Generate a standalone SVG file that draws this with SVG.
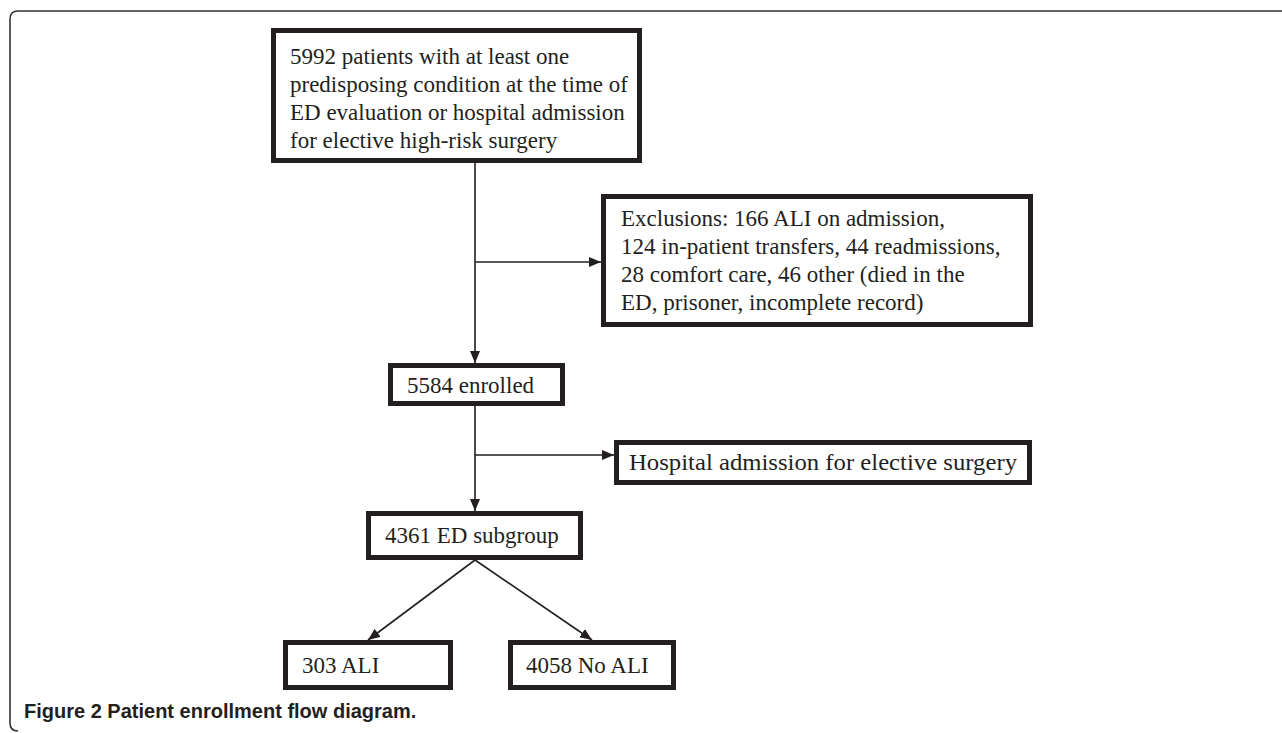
<svg xmlns="http://www.w3.org/2000/svg" width="1282" height="733" viewBox="0 0 1282 733">
<defs>
<style>
.box{fill:#fff;stroke:#231f20;stroke-width:5}
.t{font-family:"Liberation Serif","Times New Roman",serif;font-size:23px;fill:#231f20}
.c{stroke:#231f20;stroke-width:1.6;fill:none}
.cap{font-family:"Liberation Sans",Arial,sans-serif;font-size:20px;font-weight:bold;fill:#231f20}
</style>
<marker id="ah" viewBox="0 0 12 10" refX="12" refY="5" markerWidth="12" markerHeight="10" markerUnits="userSpaceOnUse" orient="auto">
<path d="M0,0 L12,5 L0,10 Z" fill="#231f20"/>
</marker>
</defs>
<rect width="1282" height="733" fill="#fff"/>
<path d="M18,731 Q10,731 10,723 L10,19 Q10,11 18,11 L1282,11" fill="none" stroke="#333" stroke-width="1.6"/>
<g id="connectors">
<line class="c" x1="475" y1="163" x2="475" y2="363" marker-end="url(#ah)"/>
<line class="c" x1="475" y1="262" x2="601" y2="262" marker-end="url(#ah)"/>
<line class="c" x1="475" y1="406" x2="475" y2="511" marker-end="url(#ah)"/>
<line class="c" x1="475" y1="455" x2="614" y2="455" marker-end="url(#ah)"/>
<line class="c" x1="475" y1="560" x2="368" y2="640" marker-end="url(#ah)"/>
<line class="c" x1="475" y1="560" x2="592" y2="640" marker-end="url(#ah)"/>
</g>
<g id="n1">
<rect class="box" x="273.5" y="30.5" width="366" height="130"/>
<text class="t" x="290" y="64">5992 patients with at least one</text>
<text class="t" x="290" y="92">predisposing condition at the time of</text>
<text class="t" x="290" y="120">ED evaluation or hospital admission</text>
<text class="t" x="290" y="148">for elective high-risk surgery</text>
</g>
<g id="n2">
<rect class="box" x="603.5" y="196.5" width="427" height="128"/>
<text class="t" x="621" y="226">Exclusions: 166 ALI on admission,</text>
<text class="t" x="621" y="254">124 in-patient transfers, 44 readmissions,</text>
<text class="t" x="621" y="282">28 comfort care, 46 other (died in the</text>
<text class="t" x="621" y="310">ED, prisoner, incomplete record)</text>
</g>
<g id="n3">
<rect class="box" x="390.5" y="365.5" width="172" height="38"/>
<text class="t" x="407" y="393">5584 enrolled</text>
</g>
<g id="n4">
<rect class="box" x="616.5" y="442.5" width="413" height="40"/>
<text class="t" x="629" y="470" textLength="388" lengthAdjust="spacingAndGlyphs">Hospital admission for elective surgery</text>
</g>
<g id="n5">
<rect class="box" x="368.5" y="513.5" width="212" height="44"/>
<text class="t" x="385" y="543">4361 ED subgroup</text>
</g>
<g id="n6">
<rect class="box" x="285.5" y="642.5" width="165" height="45"/>
<text class="t" x="302" y="673">303 ALI</text>
</g>
<g id="n7">
<rect class="box" x="510.5" y="642.5" width="163" height="45"/>
<text class="t" x="526" y="673">4058 No ALI</text>
</g>
<text class="cap" x="24" y="718">Figure 2 Patient enrollment flow diagram.</text>
</svg>
